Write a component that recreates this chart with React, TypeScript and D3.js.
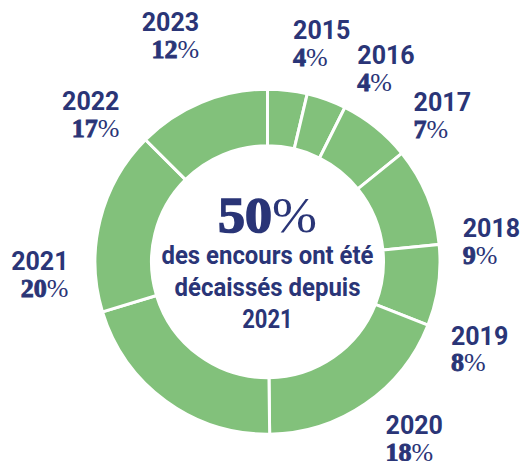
import React from 'react';
import * as d3 from 'd3';

// disbursement years, clockwise from 12 o'clock
const years = ['2015', '2016', '2017', '2018', '2019', '2020', '2021', '2022', '2023'];
// printed percentages
const labelValues = [4, 4, 7, 9, 8, 18, 20, 17, 12];
// slice sizes (%)
const sliceShares = [3.7, 3.7, 6.8, 9.2, 7.6, 18.8, 20.5, 17.2, 12.5];

const headline = '50';
const captionLines = ['des encours ont été', 'décaissés depuis', '2021'];

// label placement around the ring: polar angle (deg, clockwise from top) and distance
const labelAngle = [6.7, 24.9, 44.9, 84, 115.4, 146.2, 266.3, 314.8, 343.2];
const labelDist = [219.5, 213.4, 207, 196.3, 203, 212.3, 199.4, 208.6, 236.5];

const width = 525;
const height = 461;
const cx = 267.5;
const cy = 261.7;
const green = '#82c17b';
const navy = '#2a3577';

export default function App() {
  const pie = d3.pie<number>().sort(null).value(d => d);
  const arcs = pie(sliceShares);
  const arc = d3.arc<d3.PieArcDatum<number>>().innerRadius(116).outerRadius(172.5);

  const captionWidths = [212, 186, 50.5];

  return (
    <svg width={width} height={height} style={{ position: 'absolute', left: 0, top: 0 }}>
      <g transform={`translate(${cx},${cy})`}>
        {arcs.map((a, i) => (
          <path key={years[i]} d={arc(a) || ''} fill={green} stroke="#fff" strokeWidth={3} />
        ))}

        <text
          y={-30}
          textAnchor="middle"
          fill={navy}
          fontFamily="'Liberation Serif', serif"
          fontWeight={700}
          fontSize={50}
          textLength={99}
          lengthAdjust="spacingAndGlyphs"
        >
          <tspan stroke={navy} strokeWidth={1.6}>{headline}</tspan>
          <tspan fontWeight={400}>%</tspan>
        </text>
        {captionLines.map((line, i) => (
          <text
            key={line}
            y={1.9 + i * 32}
            textAnchor="middle"
            fill={navy}
            fontFamily="Roboto, sans-serif"
            fontWeight={700}
            fontSize={26}
            textLength={captionWidths[i]}
            lengthAdjust="spacingAndGlyphs"
          >
            {line}
          </text>
        ))}
      </g>

      {years.map((yr, i) => {
        const rad = (labelAngle[i] * Math.PI) / 180;
        const x = cx + labelDist[i] * Math.sin(rad);
        const y = cy - labelDist[i] * Math.cos(rad);
        const anchor = labelAngle[i] > 180 ? 'end' : 'start';
        const yearBase = y - 4.25;
        return (
          <g key={yr} fill={navy}>
            <text x={x} y={yearBase} textAnchor={anchor} fontFamily="Roboto, sans-serif" fontWeight={700} fontSize={25}>
              {yr}
            </text>
            <text
              x={x}
              y={yearBase + 26.8}
              textAnchor={anchor}
              fontFamily="'Liberation Serif', serif"
              fontWeight={700}
              fontSize={26}
            >
              <tspan stroke={navy} strokeWidth={0.9}>{labelValues[i]}</tspan>
              <tspan fontWeight={400}>%</tspan>
            </text>
          </g>
        );
      })}
    </svg>
  );
}
